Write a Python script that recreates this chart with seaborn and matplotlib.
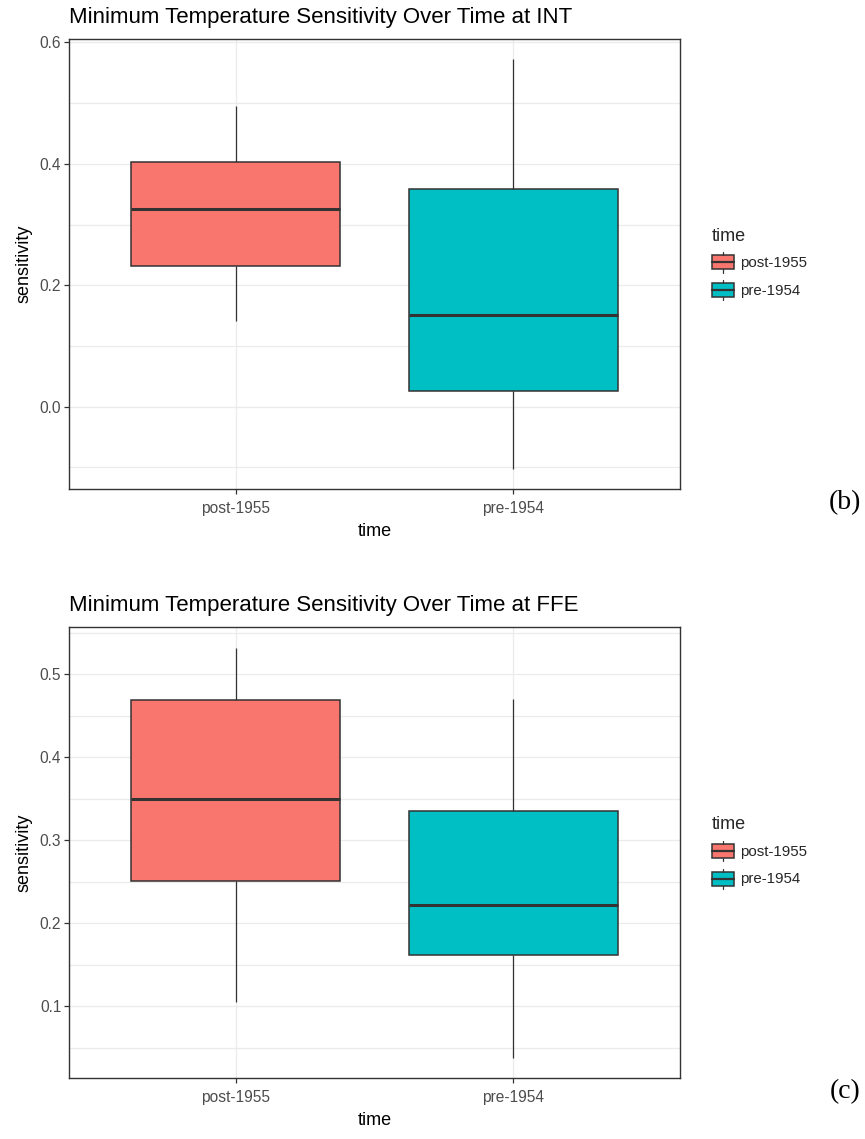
import numpy as np
import pandas as pd
import matplotlib
matplotlib.use("Agg")
import matplotlib.pyplot as plt
from matplotlib.patches import Rectangle, Patch
from matplotlib.lines import Line2D
from matplotlib.legend_handler import HandlerBase
from matplotlib.ticker import MultipleLocator, FormatStrFormatter
import seaborn as sns

# Group order and colours (ggplot default hue pair)
groups = ["post-1955", "pre-1954"]
group_colors = ["#F8766D", "#00BFC4"]

# Five-number summaries (min, Q1, median, Q3, max) of sensitivity per period
int_post = [0.141, 0.231, 0.325, 0.403, 0.495]
int_pre = [-0.102, 0.026, 0.151, 0.359, 0.572]
ffe_post = [0.105, 0.251, 0.349, 0.469, 0.532]
ffe_pre = [0.038, 0.162, 0.222, 0.335, 0.470]

sites = ["INT", "FFE"]
panel_tags = ["(b)", "(c)"]

sns.set_theme(style="white")
plt.rcParams["font.family"] = ["Liberation Sans", "DejaVu Sans"]

EDGE = "#333333"
GRID = "#EBEBEB"
TICKTXT = "#4D4D4D"


def site_frame(post, pre):
    return pd.DataFrame({
        "time": [groups[0]] * len(post) + [groups[1]] * len(pre),
        "sensitivity": list(post) + list(pre),
    })


class BoxKey(HandlerBase):
    """Legend key drawn as a miniature boxplot."""

    def create_artists(self, legend, orig_handle, xdescent, ydescent,
                       width, height, fontsize, trans):
        x0, y0 = -xdescent, -ydescent
        bw, bh = width, height * 0.68
        by = y0 + (height - bh) / 2
        cx = x0 + width / 2
        rect = Rectangle((x0, by), bw, bh, facecolor=orig_handle.get_facecolor(),
                         edgecolor=EDGE, linewidth=1.1, transform=trans)
        med = Line2D([x0, x0 + bw], [by + bh / 2] * 2, color=EDGE, lw=1.6,
                     transform=trans)
        top = Line2D([cx, cx], [by + bh, y0 + height], color=EDGE, lw=0.9,
                     transform=trans)
        bot = Line2D([cx, cx], [y0, by], color=EDGE, lw=0.9,
                     transform=trans)
        return [rect, med, top, bot]


fig = plt.figure(figsize=(8.65, 11.39), dpi=100)
W, H = 865, 1139
panels = [
    (site_frame(int_post, int_pre), (69, 39, 680, 489), 0.2),
    (site_frame(ffe_post, ffe_pre), (69, 627, 680, 1078), 0.1),
]

for (df, (l, t, r, b), step), site, tag in zip(panels, sites, panel_tags):
    ax = fig.add_axes([l / W, 1 - b / H, (r - l) / W, (b - t) / H])
    sns.boxplot(
        data=df, x="time", y="sensitivity", hue="time", order=groups,
        hue_order=groups, palette=dict(zip(groups, group_colors)),
        saturation=1, width=0.75, whis=(0, 100), showcaps=False,
        linecolor=EDGE, linewidth=1.1, legend=False, dodge=False,
        medianprops=dict(linewidth=2.2, color=EDGE),
        whiskerprops=dict(linewidth=0.9, color=EDGE),
        ax=ax,
    )
    lo, hi = df["sensitivity"].min(), df["sensitivity"].max()
    pad = 0.05 * (hi - lo)
    ax.set_ylim(lo - pad, hi + pad)
    ax.set_xlim(-0.6, 1.6)

    ax.yaxis.set_major_locator(MultipleLocator(step))
    ax.yaxis.set_minor_locator(MultipleLocator(step / 2))
    ax.yaxis.set_major_formatter(FormatStrFormatter("%.1f"))
    ax.set_axisbelow(True)
    ax.grid(True, which="both", axis="y", color=GRID, linewidth=0.9)
    ax.grid(True, which="major", axis="x", color=GRID, linewidth=0.9)
    ax.tick_params(axis="both", which="major", length=3.5, width=0.9,
                   color=EDGE, labelcolor=TICKTXT, labelsize=11.2,
                   left=True, bottom=True)
    ax.tick_params(axis="x", which="major", pad=5)
    ax.tick_params(axis="y", which="major", pad=2)
    ax.tick_params(axis="y", which="minor", length=0)
    for sp in ax.spines.values():
        sp.set_visible(True)
        sp.set_color(EDGE)
        sp.set_linewidth(1.0)

    ax.set_xlabel("time", fontsize=13, color="black", labelpad=5)
    ax.set_ylabel("sensitivity", fontsize=13, color="black", labelpad=5)
    ax.set_title(f"Minimum Temperature Sensitivity Over Time at {site}",
                 loc="left", fontsize=16, color="black", pad=11.5)

    handles = [Patch(facecolor=c, edgecolor=EDGE) for c in group_colors]
    leg = ax.legend(handles, groups, title="time", loc="center left",
                    bbox_to_anchor=(1.035, 0.5), frameon=False, fontsize=10.8,
                    title_fontsize=13, handler_map={Patch: BoxKey()},
                    handlelength=1.45, handleheight=1.7, handletextpad=0.45,
                    labelspacing=0.5, borderpad=0.2)
    leg._legend_box.align = "left"

    fig.text(845 / W, 1 - (b + 14) / H, tag, ha="center", va="center",
             fontsize=20, family=["Liberation Serif", "DejaVu Serif"],
             color="black")

fig.savefig("out.png", dpi=100, facecolor="white")
